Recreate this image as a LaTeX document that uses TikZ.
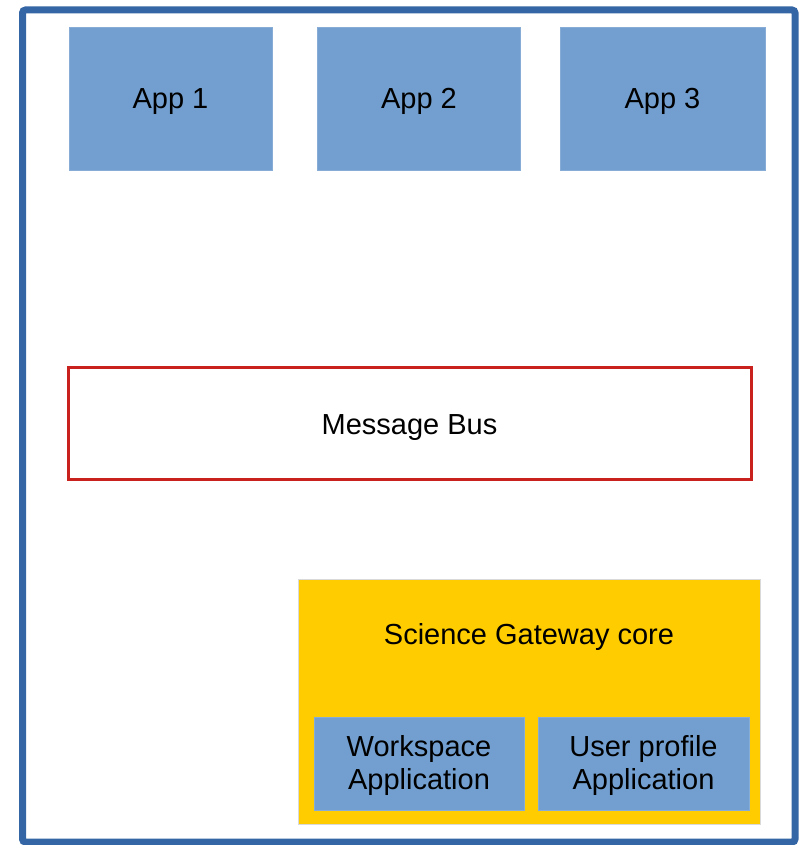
\documentclass[tikz,border=0pt]{standalone}
\usepackage{fontspec}
\setmainfont{Liberation Sans}
\definecolor{frameblue}{HTML}{3465A4}
\definecolor{appblue}{HTML}{729FCF}
\definecolor{busred}{HTML}{C9211E}
\definecolor{coreyellow}{HTML}{FFCC00}
\begin{document}
\begin{tikzpicture}[x=1pt,y=-1pt,
  appbox/.style={fill=appblue, draw=appblue!85!white, line width=0.6pt, inner sep=0pt},
  busbox/.style={draw=busred, line width=3pt, fill=white, inner sep=0pt},
  corebox/.style={fill=coreyellow, draw=black!15, line width=0.6pt, inner sep=0pt},
  lbl/.style={font=\fontsize{29}{32}\selectfont, inner sep=0pt, anchor=base}]
\useasboundingbox (0,0) rectangle (800,845);
\draw[frameblue, line width=7pt, rounded corners=3pt] (22.5,10) rectangle (795,842);
% apps
\node[appbox, minimum width=203pt, minimum height=143pt] (app1) at (170.5,98.5) {};
\node[appbox, minimum width=203pt, minimum height=143pt] (app2) at (418.5,98.5) {};
\node[appbox, minimum width=205pt, minimum height=143pt] (app3) at (662.5,98.5) {};
\node[lbl] (app1t) at (170.5,108.3) {App 1};
\node[lbl] (app2t) at (419,108.3) {App 2};
\node[lbl] (app3t) at (662.5,108.3) {App 3};
% bus
\node[busbox, minimum width=683pt, minimum height=112pt] (bus) at (409.5,423) {};
\node[lbl] (bust) at (409.5,434.3) {Message Bus};
% core
\node[corebox, minimum width=462pt, minimum height=245pt] (core) at (529,701.5) {};
\node[lbl] (coret) at (529,644.3) {Science Gateway core};
\node[appbox, minimum width=210pt, minimum height=93pt] (ws) at (419,763.5) {};
\node[appbox, minimum width=211pt, minimum height=93pt] (up) at (643.5,763.5) {};
\node[lbl] (wst1) at (419,756.7) {Workspace};
\node[lbl] (wst2) at (419,789) {Application};
\node[lbl] (upt1) at (643.5,756.7) {User profile};
\node[lbl] (upt2) at (643.5,789) {Application};
\end{tikzpicture}
\end{document}
